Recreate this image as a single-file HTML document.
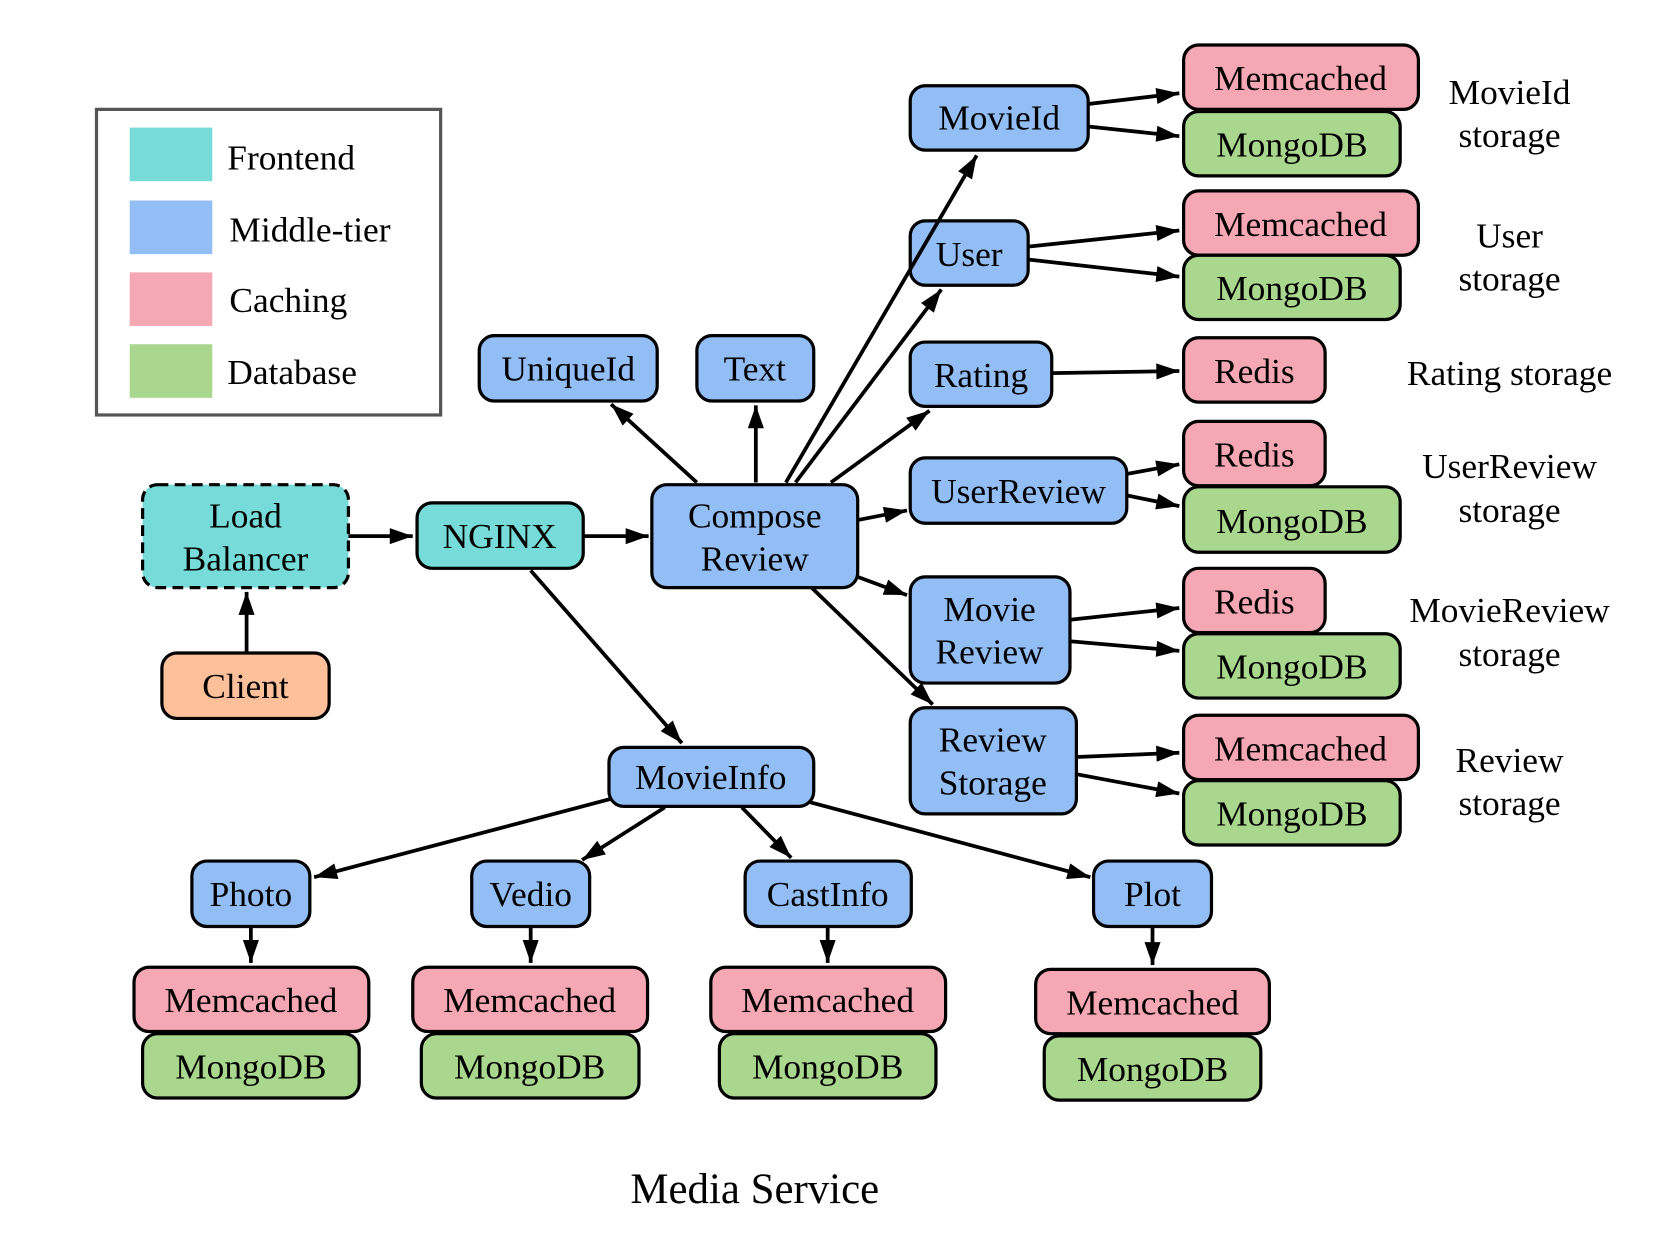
<!DOCTYPE html>
<html><head><meta charset="utf-8"><style>html,body{margin:0;padding:0;background:#fff}svg{display:block}</style></head>
<body>
<svg width="1680" height="1246" viewBox="0 0 1567 1162" preserveAspectRatio="none" xmlns="http://www.w3.org/2000/svg" font-family="Liberation Serif, serif" font-size="33">
<defs>
<marker id="m" viewBox="0 0 20 14" refX="20" refY="7" markerWidth="22" markerHeight="15" markerUnits="userSpaceOnUse" orient="auto"><path d="M0,0L20,7L0,14z" fill="#000"/></marker></defs>
<rect x="90" y="102" width="321" height="285" fill="#fff" stroke="#555" stroke-width="3"/>
<rect x="121" y="119" width="77" height="50" fill="#76dbd9"/><text x="212" y="158">Frontend</text>
<rect x="121" y="187" width="77" height="50" fill="#92bdf5"/><text x="214" y="225">Middle-tier</text>
<rect x="121" y="254" width="77" height="50" fill="#f5a7b4"/><text x="214" y="291">Caching</text>
<rect x="121" y="321" width="77" height="50" fill="#a9d78d"/><text x="212" y="358">Database</text>
<g stroke="#000" stroke-width="3" text-anchor="middle">
<rect x="133" y="452" width="192" height="96" rx="14" fill="#76dbd9" stroke-dasharray="10,6"/>
<rect x="151" y="609" width="156" height="61" rx="14" fill="#fdc09a"/>
<rect x="389" y="469" width="155" height="61" rx="14" fill="#76dbd9"/>
<g fill="#92bdf5">
<rect x="608" y="452" width="192" height="96" rx="14"/>
<rect x="447" y="313" width="166" height="61" rx="14"/>
<rect x="650" y="313" width="109" height="61" rx="14"/>
<rect x="849" y="80" width="166" height="60" rx="14"/>
<rect x="849" y="206" width="110" height="60" rx="14"/>
<rect x="849" y="319" width="132" height="60" rx="14"/>
<rect x="849" y="427" width="202" height="61" rx="14"/>
<rect x="849" y="538" width="149" height="99" rx="14"/>
<rect x="849" y="660" width="155" height="99" rx="14"/>
<rect x="568" y="697" width="191" height="55" rx="14"/>
<rect x="179" y="803" width="110" height="61" rx="14"/>
<rect x="440" y="803" width="110" height="61" rx="14"/>
<rect x="695" y="803" width="155" height="61" rx="14"/>
<rect x="1020" y="803" width="110" height="61" rx="14"/>
</g>
<g fill="#f5a7b4">
<rect x="125" y="902" width="219" height="60" rx="14"/>
<rect x="385" y="902" width="219" height="60" rx="14"/>
<rect x="663" y="902" width="219" height="60" rx="14"/>
<rect x="966" y="904" width="218" height="60" rx="14"/>
<rect x="1104" y="42" width="219" height="60" rx="14"/>
<rect x="1104" y="178" width="219" height="60" rx="14"/>
<rect x="1104" y="315" width="132" height="60" rx="14"/>
<rect x="1104" y="393" width="132" height="60" rx="14"/>
<rect x="1104" y="530" width="132" height="60" rx="14"/>
<rect x="1104" y="667" width="219" height="60" rx="14"/>
</g>
<g fill="#a9d78d">
<rect x="133" y="964" width="202" height="60" rx="14"/>
<rect x="393" y="964" width="203" height="60" rx="14"/>
<rect x="671" y="964" width="202" height="60" rx="14"/>
<rect x="974" y="966" width="202" height="60" rx="14"/>
<rect x="1104" y="104" width="202" height="60" rx="14"/>
<rect x="1104" y="238" width="202" height="60" rx="14"/>
<rect x="1104" y="454" width="202" height="61" rx="14"/>
<rect x="1104" y="591" width="202" height="60" rx="14"/>
<rect x="1104" y="728" width="202" height="60" rx="14"/>
</g>
</g>
<g text-anchor="middle">
<text x="229" y="492">Load</text><text x="229" y="532">Balancer</text>
<text x="229" y="651">Client</text>
<text x="466" y="511">NGINX</text>
<text x="704" y="492">Compose</text><text x="704" y="532">Review</text>
<text x="530" y="355">UniqueId</text>
<text x="704" y="355">Text</text>
<text x="932" y="121">MovieId</text>
<text x="904" y="248">User</text>
<text x="915" y="361">Rating</text>
<text x="950" y="469">UserReview</text>
<text x="923" y="579">Movie</text><text x="923" y="619">Review</text>
<text x="926" y="701">Review</text><text x="926" y="741">Storage</text>
<text x="663" y="736">MovieInfo</text>
<text x="234" y="845">Photo</text><text x="495" y="845">Vedio</text><text x="772" y="845">CastInfo</text><text x="1075" y="845">Plot</text>
<text x="234" y="944">Memcached</text><text x="234" y="1006">MongoDB</text>
<text x="494" y="944">Memcached</text><text x="494" y="1006">MongoDB</text>
<text x="772" y="944">Memcached</text><text x="772" y="1006">MongoDB</text>
<text x="1075" y="946">Memcached</text><text x="1075" y="1008">MongoDB</text>
<text x="1213" y="84">Memcached</text><text x="1205" y="146">MongoDB</text>
<text x="1213" y="220">Memcached</text><text x="1205" y="280">MongoDB</text>
<text x="1170" y="357">Redis</text>
<text x="1170" y="435">Redis</text><text x="1205" y="497">MongoDB</text>
<text x="1170" y="572">Redis</text><text x="1205" y="633">MongoDB</text>
<text x="1213" y="709">Memcached</text><text x="1205" y="770">MongoDB</text>
<text x="1408" y="97">MovieId</text><text x="1408" y="137">storage</text>
<text x="1408" y="231">User</text><text x="1408" y="271">storage</text>
<text x="1408" y="359">Rating storage</text>
<text x="1408" y="446">UserReview</text><text x="1408" y="487">storage</text>
<text x="1408" y="580">MovieReview</text><text x="1408" y="621">storage</text>
<text x="1408" y="720">Review</text><text x="1408" y="760">storage</text>
<text x="704" y="1122" font-size="40">Media Service</text>
</g>
<g stroke="#000" stroke-width="3.5" marker-end="url(#m)" fill="none">
<line x1="325" y1="500" x2="385" y2="500"/>
<line x1="544" y1="500" x2="605" y2="500"/>
<line x1="230" y1="609" x2="230" y2="552"/>
<line x1="495" y1="532" x2="636" y2="693"/>
<line x1="650" y1="450" x2="570" y2="377"/>
<line x1="705" y1="450" x2="705" y2="378"/>
<line x1="733" y1="450" x2="911" y2="145"/>
<line x1="742" y1="450" x2="878" y2="270"/>
<line x1="775" y1="450" x2="867" y2="383"/>
<line x1="800" y1="485" x2="846" y2="476"/>
<line x1="800" y1="538" x2="846" y2="555"/>
<line x1="757" y1="548" x2="870" y2="657"/>
<line x1="1015" y1="97" x2="1100" y2="87"/>
<line x1="1015" y1="118" x2="1100" y2="127"/>
<line x1="959" y1="230" x2="1100" y2="215"/>
<line x1="959" y1="242" x2="1100" y2="258"/>
<line x1="981" y1="348" x2="1100" y2="346"/>
<line x1="1051" y1="442" x2="1100" y2="433"/>
<line x1="1051" y1="462" x2="1100" y2="472"/>
<line x1="998" y1="578" x2="1100" y2="567"/>
<line x1="998" y1="598" x2="1100" y2="607"/>
<line x1="1004" y1="706" x2="1100" y2="702"/>
<line x1="1004" y1="722" x2="1100" y2="740"/>
<line x1="570" y1="745" x2="293" y2="818"/>
<line x1="620" y1="753" x2="543" y2="802"/>
<line x1="692" y1="753" x2="738" y2="800"/>
<line x1="755" y1="748" x2="1017" y2="818"/>
<line x1="234" y1="864" x2="234" y2="898"/>
<line x1="495" y1="864" x2="495" y2="898"/>
<line x1="772" y1="864" x2="772" y2="898"/>
<line x1="1075" y1="864" x2="1075" y2="900"/>
</g>
</svg>
</body></html>
